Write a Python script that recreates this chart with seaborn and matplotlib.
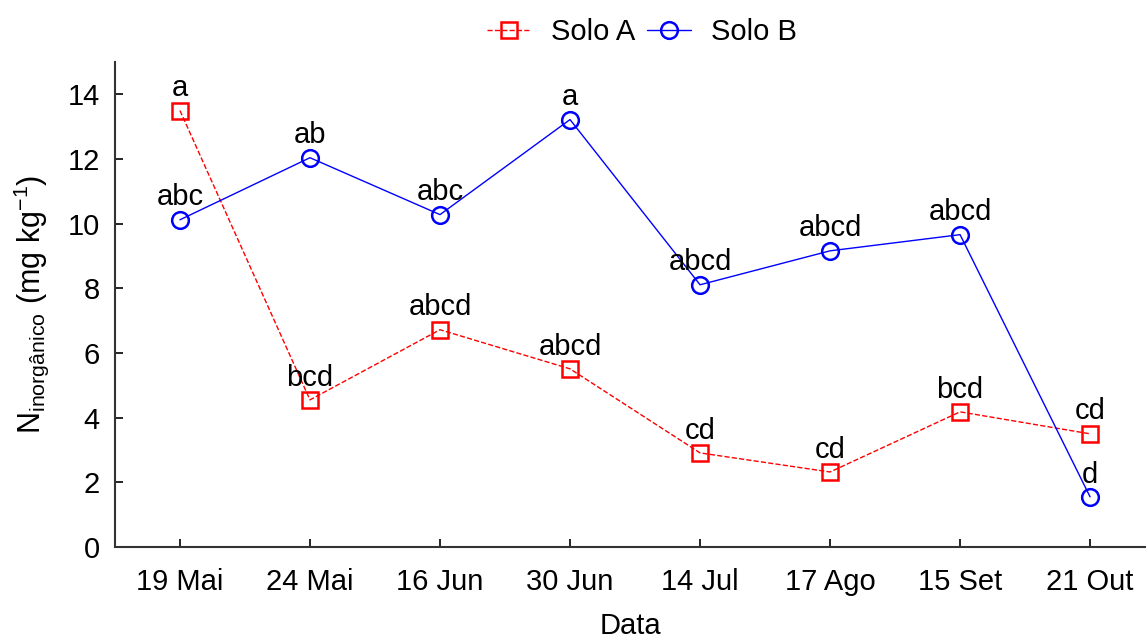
import matplotlib
matplotlib.use("Agg")
import matplotlib.pyplot as plt
import seaborn as sns

# Dados
datas = ["19 Mai", "24 Mai", "16 Jun", "30 Jun", "14 Jul", "17 Ago", "15 Set", "21 Out"]
solo_a = [13.5, 4.55, 6.72, 5.51, 2.91, 2.32, 4.18, 3.50]
solo_b = [10.12, 12.04, 10.28, 13.22, 8.11, 9.16, 9.66, 1.55]
letras_a = ["a", "bcd", "abcd", "abcd", "cd", "cd", "bcd", "cd"]
letras_b = ["abc", "ab", "abc", "a", "abcd", "abcd", "abcd", "d"]
yticks = [0, 2, 4, 6, 8, 10, 12, 14]

sns.set_style("ticks")
plt.rcParams["font.family"] = ["Liberation Sans", "DejaVu Sans"]
plt.rcParams["mathtext.fontset"] = "custom"
plt.rcParams["mathtext.rm"] = "Liberation Sans"
plt.rcParams["mathtext.it"] = "Liberation Sans:italic"
plt.rcParams["text.color"] = "black"
plt.rcParams["axes.labelcolor"] = "black"
plt.rcParams["xtick.color"] = "black"
plt.rcParams["ytick.color"] = "black"

fig = plt.figure(figsize=(11.46, 6.42), dpi=100)
ax = fig.add_axes([0.1003, 0.148, 0.8997, 0.7554])

sns.lineplot(x=datas, y=solo_a, ax=ax, color="red", linestyle="--", linewidth=1,
             marker="s", markersize=11, markerfacecolor="none",
             markeredgecolor="red", markeredgewidth=1.8, label="Solo A")
sns.lineplot(x=datas, y=solo_b, ax=ax, color="blue", linestyle="-", linewidth=1,
             marker="o", markersize=12, markerfacecolor="none",
             markeredgecolor="blue", markeredgewidth=1.8, label="Solo B")

for i, (ya, la) in enumerate(zip(solo_a, letras_a)):
    ax.annotate(la, (i, ya), xytext=(0, 6), textcoords="offset points",
                ha="center", va="bottom", fontsize=21)
for i, (yb, lb) in enumerate(zip(solo_b, letras_b)):
    ax.annotate(lb, (i, yb), xytext=(0, 6), textcoords="offset points",
                ha="center", va="bottom", fontsize=21)

ax.set_xlim(-0.5, 7.43)
ax.set_ylim(0, 15)
ax.set_yticks(yticks)
ax.tick_params(direction="in", length=6, width=1.2, labelsize=21)
ax.tick_params(axis="x", pad=15)
ax.tick_params(axis="y", pad=11)
ax.set_xlabel("Data", fontsize=21, labelpad=12)
ax.set_ylabel(r"N$_{\mathrm{inorgânico}}$ (mg kg$^{-1}$)", fontsize=22, labelpad=12)
for s in ["top", "right"]:
    ax.spines[s].set_visible(False)
for s in ["left", "bottom"]:
    ax.spines[s].set_linewidth(1.5)
    ax.spines[s].set_color("#333333")

handles, labels = ax.get_legend_handles_labels()
ax.get_legend().remove()
fig.legend(handles, labels, loc="center", bbox_to_anchor=(0.56, 0.95), ncol=2,
           frameon=False, fontsize=21, handlelength=1.5, handletextpad=0.7,
           columnspacing=0.4)

fig.savefig("out.png", dpi=100)
